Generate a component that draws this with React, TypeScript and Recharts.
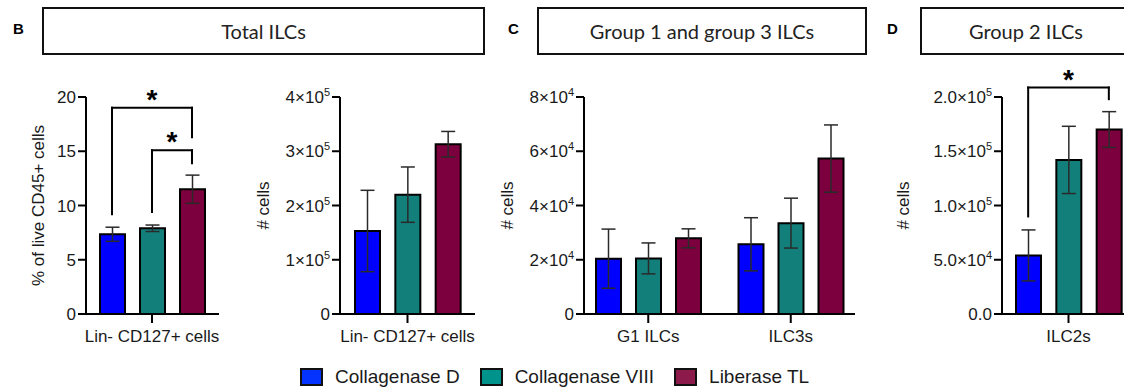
import React from "react";
import {
  BarChart,
  Bar,
  XAxis,
  YAxis,
  ErrorBar,
  Cell,
  ReferenceLine,
} from "recharts";

const enzymes = ["Collagenase D", "Collagenase VIII", "Liberase TL"];
const enzymeColors = ["#0000ff", "#137f7b", "#7b003d"];
const legendColors = ["#0433ff", "#00938c", "#8c1a4b"];

// B - total ILCs, % of live CD45+ cells
const totalPct = [7.35, 7.9, 11.5];
const totalPctErr = [0.65, 0.3, 1.3];
const totalPctTicks = [0, 5, 10, 15, 20];
const totalPctBrackets = [
  { from: 0, to: 2, top: 19.0, fromEnd: 9.2, toEnd: 16.3 },
  { from: 1, to: 2, top: 15.1, fromEnd: 9.4, toEnd: 13.9 },
];

// B - total ILCs, # cells
const totalCount = [153000, 220000, 313000];
const totalCountErr = [75000, 51000, 23500];
const totalCountTicks = [0, 100000, 200000, 300000, 400000];

// C - group 1 and group 3 ILCs
const g13Groups = ["G1 ILCs", "ILC3s"];
const g1Count = [20400, 20500, 27900];
const g1Err = [10900, 5700, 3500];
const ilc3Count = [25700, 33500, 57300];
const ilc3Err = [9800, 9200, 12400];
const g13Ticks = [0, 20000, 40000, 60000, 80000];

// D - group 2 ILCs
const ilc2Count = [54000, 142000, 170000];
const ilc2Err = [23500, 31000, 16500];
const ilc2Ticks = [0, 50000, 100000, 150000, 200000];
const ilc2Brackets = [
  { from: 0, to: 2, top: 208700, fromEnd: 89900, toEnd: 198000 },
];

const FONT = '"Liberation Sans", Arial, Helvetica, sans-serif';
const INK = "#1a1a1a";
const axisStroke = { stroke: "#000", strokeWidth: 2 };

function sciParts(v: number, digits: number) {
  if (v === 0) return { base: digits ? (0).toFixed(digits) : "0", exp: "" };
  const exp = Math.floor(Math.log10(v));
  const mant = v / 10 ** exp;
  return { base: `${mant.toFixed(digits)}×10`, exp: String(exp) };
}

function makeTick(sci: boolean, digits: number) {
  return (props: any) => {
    const { x, y, payload } = props;
    if (!sci) {
      return (
        <text x={x} y={y} dy="0.36em" textAnchor="end" fontSize={17} fill={INK}>
          {payload.value}
        </text>
      );
    }
    const p = sciParts(payload.value, digits);
    return (
      <text x={x} y={y} dy="0.36em" textAnchor="end" fontSize={17} fill={INK}>
        {p.base}
        {p.exp && (
          <tspan dy={-7} fontSize={11}>
            {p.exp}
          </tspan>
        )}
      </text>
    );
  };
}

function yTitle(text: string, dist: number) {
  return (props: any) => {
    const vb = props.viewBox;
    const cx = vb.x + vb.width - dist;
    const cy = vb.y + vb.height / 2;
    return (
      <text
        x={cx}
        y={cy}
        transform={`rotate(-90 ${cx} ${cy})`}
        textAnchor="middle"
        dominantBaseline="central"
        fontSize={17}
        fill={INK}
      >
        {text}
      </text>
    );
  };
}

interface Bracket {
  from: number;
  to: number;
  top: number;
  fromEnd: number;
  toEnd: number;
}

function renderBrackets(brackets: Bracket[]) {
  const line = {
    stroke: "#000",
    strokeWidth: 2,
    strokeLinecap: "square" as const,
    ifOverflow: "visible" as const,
  };
  return brackets.map((b, i) => {
    const a = enzymes[b.from];
    const c = enzymes[b.to];
    return (
      <React.Fragment key={i}>
        <ReferenceLine {...line} segment={[{ x: a, y: b.fromEnd }, { x: a, y: b.top }]} />
        <ReferenceLine
          {...line}
          segment={[{ x: a, y: b.top }, { x: c, y: b.top }]}
          label={{
            value: "*",
            position: "top",
            offset: -1,
            fontSize: 28,
            fontWeight: 700,
            fill: "#000",
          }}
        />
        <ReferenceLine {...line} segment={[{ x: c, y: b.top }, { x: c, y: b.toEnd }]} />
      </React.Fragment>
    );
  });
}

interface EnzymePanelProps {
  left: number;
  width: number;
  axisWidth: number;
  right: number;
  pad: { left: number; right: number };
  values: number[];
  errors: number[];
  ticks: number[];
  sci: boolean;
  digits: number;
  group: string;
  yLabel: string;
  yLabelDist: number;
  brackets?: Bracket[];
}

function EnzymePanel(p: EnzymePanelProps) {
  const data = enzymes.map((name, i) => ({
    name,
    value: p.values[i],
    err: p.errors[i],
  }));
  return (
    <div style={{ position: "absolute", left: p.left, top: 0 }}>
      <BarChart
        width={p.width}
        height={360}
        data={data}
        margin={{ top: 97, right: p.right, bottom: 6, left: 0 }}
        style={{ fontFamily: FONT }}
      >
        <XAxis
          dataKey="name"
          height={40}
          padding={p.pad}
          ticks={[enzymes[1]]}
          tickFormatter={() => p.group}
          tickSize={9}
          tickMargin={7}
          axisLine={axisStroke}
          tickLine={axisStroke}
          tick={{ fontSize: 17, fill: INK }}
        />
        <YAxis
          width={p.axisWidth}
          domain={[0, p.ticks[p.ticks.length - 1]]}
          ticks={p.ticks}
          interval={0}
          tickSize={8}
          tickMargin={2}
          axisLine={axisStroke}
          tickLine={axisStroke}
          tick={makeTick(p.sci, p.digits)}
          label={{ content: yTitle(p.yLabel, p.yLabelDist) }}
        />
        <Bar
          dataKey="value"
          barSize={25}
          stroke="#000"
          strokeWidth={2}
          isAnimationActive={false}
        >
          {enzymes.map((n, i) => (
            <Cell key={n} fill={enzymeColors[i]} stroke="#000" strokeWidth={2} />
          ))}
          <ErrorBar dataKey="err" width={7} stroke="#2a2a2a" strokeWidth={1.5} />
        </Bar>
        {p.brackets ? renderBrackets(p.brackets) : null}
      </BarChart>
    </div>
  );
}

function GroupPanel() {
  const vals = [g1Count, ilc3Count];
  const errs = [g1Err, ilc3Err];
  const data = g13Groups.map((g, gi) => {
    const row: Record<string, any> = { group: g };
    enzymes.forEach((_, i) => {
      row[`v${i}`] = vals[gi][i];
      row[`e${i}`] = errs[gi][i];
    });
    return row;
  });
  return (
    <div style={{ position: "absolute", left: 490, top: 0 }}>
      <BarChart
        width={370}
        height={360}
        data={data}
        barGap={15}
        margin={{ top: 97, right: 5, bottom: 6, left: 0 }}
        style={{ fontFamily: FONT }}
      >
        <XAxis
          dataKey="group"
          height={40}
          padding={{ left: -7, right: -7 }}
          tickSize={9}
          tickMargin={7}
          axisLine={axisStroke}
          tickLine={axisStroke}
          tick={{ fontSize: 17, fill: INK }}
        />
        <YAxis
          width={94}
          domain={[0, 80000]}
          ticks={g13Ticks}
          interval={0}
          tickSize={8}
          tickMargin={2}
          axisLine={axisStroke}
          tickLine={axisStroke}
          tick={makeTick(true, 0)}
          label={{ content: yTitle("# cells", 77) }}
        />
        {enzymes.map((name, i) => (
          <Bar
            key={name}
            dataKey={`v${i}`}
            name={name}
            fill={enzymeColors[i]}
            barSize={25}
            stroke="#000"
            strokeWidth={2}
            isAnimationActive={false}
          >
            <ErrorBar dataKey={`e${i}`} width={7} stroke="#2a2a2a" strokeWidth={1.5} />
          </Bar>
        ))}
      </BarChart>
    </div>
  );
}

function TitleBox({ letter, title, left, width, letterLeft }: any) {
  return (
    <>
      <div
        style={{
          position: "absolute",
          left: letterLeft,
          top: 20,
          fontFamily: FONT,
          fontWeight: 700,
          fontSize: 15,
          lineHeight: "18px",
          color: "#000",
        }}
      >
        {letter}
      </div>
      <div
        style={{
          position: "absolute",
          left,
          top: 7,
          width,
          height: 48,
          boxSizing: "border-box",
          border: "2px solid #111",
          display: "flex",
          alignItems: "center",
          justifyContent: "center",
          fontFamily: "Lato, 'Open Sans', sans-serif",
          fontSize: 20,
          color: "#222",
        }}
      >
        {title}
      </div>
    </>
  );
}

export default function App() {
  return (
    <div
      style={{
        position: "absolute",
        left: 0,
        top: 0,
        width: 1124,
        height: 388,
        overflow: "hidden",
        background: "#fff",
      }}
    >
      <TitleBox letter="B" title="Total ILCs" left={42} width={443} letterLeft={13} />
      <TitleBox
        letter="C"
        title="Group 1 and group 3 ILCs"
        left={537}
        width={330}
        letterLeft={508}
      />
      <TitleBox letter="D" title="Group 2 ILCs" left={920} width={212} letterLeft={887} />

      <EnzymePanel
        left={0}
        width={230}
        axisWidth={86}
        right={11}
        pad={{ left: 6, right: 7 }}
        values={totalPct}
        errors={totalPctErr}
        ticks={totalPctTicks}
        sci={false}
        digits={0}
        group="Lin- CD127+ cells"
        yLabel="% of live CD45+ cells"
        yLabelDist={48}
        brackets={totalPctBrackets}
      />
      <EnzymePanel
        left={240}
        width={240}
        axisWidth={100}
        right={5}
        pad={{ left: 7, right: 7 }}
        values={totalCount}
        errors={totalCountErr}
        ticks={totalCountTicks}
        sci={true}
        digits={0}
        group="Lin- CD127+ cells"
        yLabel="# cells"
        yLabelDist={77}
      />
      <GroupPanel />
      <EnzymePanel
        left={870}
        width={271}
        axisWidth={132}
        right={5}
        pad={{ left: 6, right: 7 }}
        values={ilc2Count}
        errors={ilc2Err}
        ticks={ilc2Ticks}
        sci={true}
        digits={1}
        group="ILC2s"
        yLabel="# cells"
        yLabelDist={99}
        brackets={ilc2Brackets}
      />

      <div
        style={{
          position: "absolute",
          left: 300,
          top: 366,
          display: "flex",
          alignItems: "center",
          fontFamily: FONT,
          fontSize: 19,
          lineHeight: "22px",
          color: INK,
        }}
      >
        {enzymes.map((name, i) => (
          <div
            key={name}
            style={{ display: "flex", alignItems: "center", marginRight: 20 }}
          >
            <span
              style={{
                display: "inline-block",
                width: 23,
                height: 18,
                boxSizing: "border-box",
                border: "2px solid #111",
                background: legendColors[i],
                marginRight: 12,
              }}
            />
            <span>{name}</span>
          </div>
        ))}
      </div>
    </div>
  );
}
